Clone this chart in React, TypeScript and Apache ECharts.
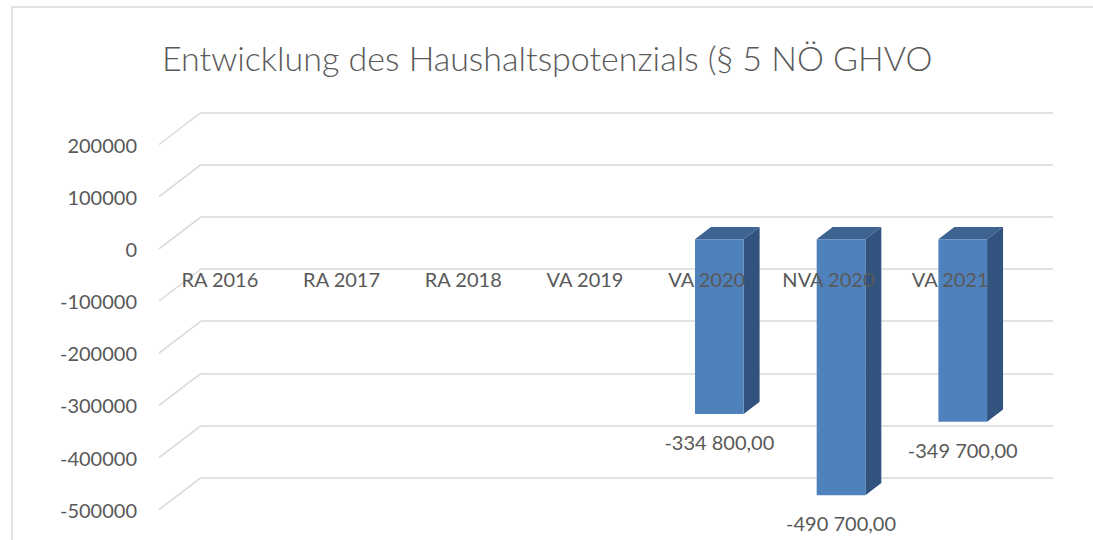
import React, { useEffect, useRef } from "react";
import * as echarts from "echarts";

const titleText = "Entwicklung des Haushaltspotenzials (§ 5 NÖ GHVO";
const categories = ["RA 2016", "RA 2017", "RA 2018", "VA 2019", "VA 2020", "NVA 2020", "VA 2021"];
const values: (number | null)[] = [null, null, null, null, -334800, -490700, -349700];
const tickValues = [200000, 100000, 0, -100000, -200000, -300000, -400000, -500000];

const FONT = "Lato, 'Open Sans', sans-serif";
const TEXT = "#595959";
const GRID = "#d9d9d9";
const DEPTH_X = -42;
const DEPTH_Y = 32;

function fmt(v: number): string {
  const neg = v < 0;
  const a = Math.abs(v);
  const intPart = Math.floor(a);
  const dec = Math.round((a - intPart) * 100);
  const s = String(intPart).replace(/\B(?=(\d{3})+(?!\d))/g, " ");
  return (neg ? "-" : "") + s + "," + String(dec).padStart(2, "0");
}

export default function App() {
  const ref = useRef<HTMLDivElement>(null);
  useEffect(() => {
    if (!ref.current) return;
    const chart = echarts.init(ref.current, undefined, { renderer: "svg" });
    const yMin = -500000, yMax = 200000, step = 100000;
    const gridBack = { left: 201, top: 112.5, width: 852, height: 365.2 };
    const gridFront = { left: 201 + DEPTH_X, top: 112.5 + DEPTH_Y, width: 852, height: 365.2 };
    const option: any = {
      animation: false,
      backgroundColor: "#ffffff",
      title: {
        text: titleText,
        left: 157,
        top: 35,
        textStyle: { fontFamily: FONT, fontWeight: 300, fontSize: 34, color: TEXT },
      },
      graphic: [
        {
          type: "rect",
          shape: { x: 12, y: 7, width: 1200, height: 700 },
          style: { fill: "none", stroke: GRID, lineWidth: 1.5 },
          silent: true,
        },
      ],
      grid: [
        { ...gridBack, containLabel: false },
        { ...gridFront, containLabel: false },
      ],
      xAxis: [
        {
          type: "category",
          gridIndex: 0,
          data: categories,
          show: false,
        },
        {
          type: "category",
          gridIndex: 1,
          data: categories,
          z: 10,
          axisLine: { show: false, onZero: false },
          axisTick: { show: false },
          axisLabel: { fontFamily: FONT, fontSize: 20, color: TEXT, margin: -241, interval: 0 },
          splitLine: { show: false },
        },
      ],
      yAxis: [
        {
          type: "value",
          gridIndex: 0,
          min: yMin,
          max: yMax,
          interval: step,
          axisLabel: { show: false },
          axisLine: { show: false },
          axisTick: { show: false },
          splitLine: { show: true, lineStyle: { color: GRID, width: 1.5 } },
        },
        {
          type: "value",
          gridIndex: 1,
          min: yMin,
          max: yMax,
          interval: step,
          axisLabel: {
            fontFamily: FONT,
            fontSize: 20,
            color: TEXT,
            margin: 22,
            formatter: (v: number) => String(v),
          },
          axisLine: { show: false },
          axisTick: { show: false },
          splitLine: { show: false },
        },
      ],
      series: [
        {
          type: "custom",
          xAxisIndex: 0,
          yAxisIndex: 0,
          z: 1,
          data: tickValues.map((t) => [0, t]),
          renderItem: (params: any, api: any) => {
            const y = api.coord([0, api.value(1)])[1];
            const x = params.coordSys.x;
            return {
              type: "line",
              shape: { x1: x, y1: y, x2: x + DEPTH_X, y2: y + DEPTH_Y },
              style: { stroke: GRID, lineWidth: 1.5 },
            };
          },
        },
        {
          type: "custom",
          xAxisIndex: 0,
          yAxisIndex: 0,
          z: 2,
          data: values.map((v, i) => [i, v == null ? "-" : v]),
          renderItem: (params: any, api: any) => {
            const v = api.value(1);
            if (v == null || isNaN(v)) return null;
            const idx = api.value(0);
            const c0 = api.coord([idx, 0]);
            const c1 = api.coord([idx, v]);
            const bandW = api.size([1, 0])[0];
            const barW = bandW * 0.4;
            const fF = 0.7, fB = 0.32;
            const dxF = DEPTH_X * fF, dyF = DEPTH_Y * fF;
            const dxB = DEPTH_X * fB, dyB = DEPTH_Y * fB;
            const xl = c0[0] - barW / 2, xr = c0[0] + barW / 2;
            const yTop = Math.min(c0[1], c1[1]);
            const yBot = Math.max(c0[1], c1[1]);
            return {
              type: "group",
              children: [
                {
                  type: "polygon",
                  shape: {
                    points: [
                      [xl + dxF, yTop + dyF],
                      [xr + dxF, yTop + dyF],
                      [xr + dxB, yTop + dyB],
                      [xl + dxB, yTop + dyB],
                    ],
                  },
                  style: { fill: "#3d6491" },
                },
                {
                  type: "polygon",
                  shape: {
                    points: [
                      [xr + dxF, yTop + dyF],
                      [xr + dxB, yTop + dyB],
                      [xr + dxB, yBot + dyB],
                      [xr + dxF, yBot + dyF],
                    ],
                  },
                  style: { fill: "#31537d" },
                },
                {
                  type: "rect",
                  shape: { x: xl + dxF, y: yTop + dyF, width: barW, height: yBot - yTop },
                  style: { fill: "#4f81bd" },
                },
                {
                  type: "text",
                  x: c0[0] + dxF,
                  y: yBot + dyF + 28,
                  style: {
                    text: fmt(v),
                    fill: TEXT,
                    fontFamily: FONT,
                    fontSize: 20,
                    align: "center",
                    verticalAlign: "middle",
                  },
                },
              ],
            };
          },
        },
      ],
    };
    chart.setOption(option);
    return () => chart.dispose();
  }, []);
  return (
    <div
      ref={ref}
      style={{ position: "fixed", left: 0, top: 0, width: 1093, height: 540, background: "#fff" }}
    />
  );
}
